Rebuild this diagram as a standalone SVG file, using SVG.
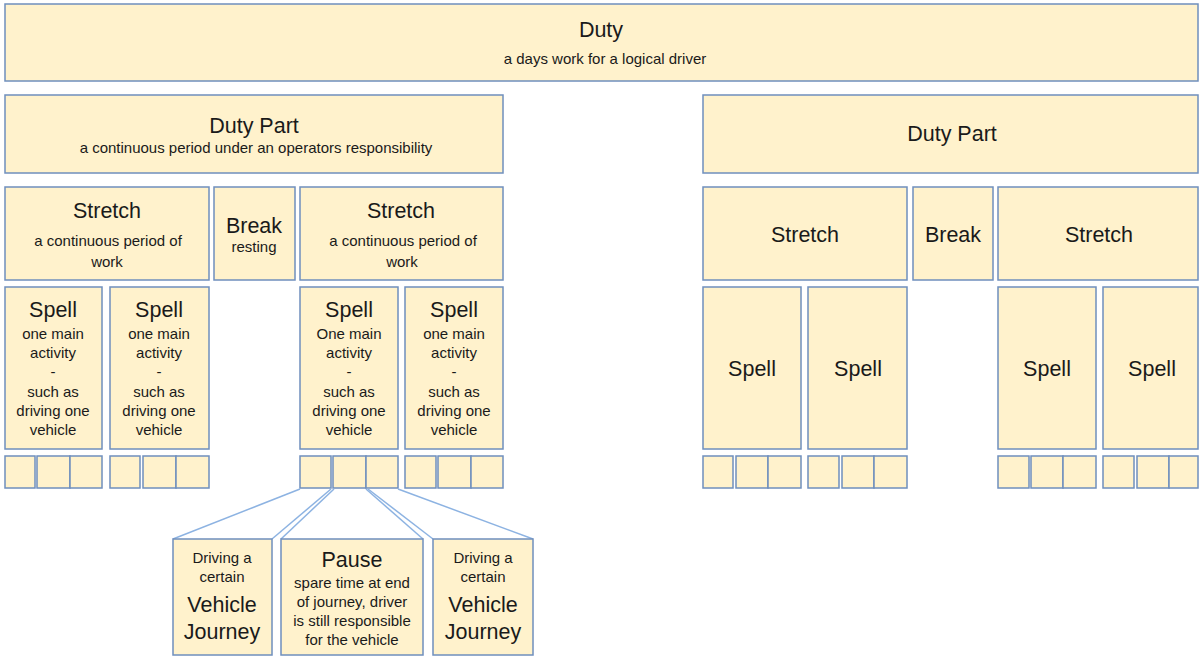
<svg xmlns="http://www.w3.org/2000/svg" width="1203" height="657" viewBox="0 0 1203 657">
<style>
rect{fill:#fff2cc;stroke:#6f8fbd;stroke-width:1.5}
text{font-family:"Liberation Sans",Arial,sans-serif;fill:#1a1a1a;text-anchor:middle}
.b{font-size:21.5px}
.s{font-size:15px}
.c line{stroke:#8db3e2;stroke-width:1.5}
</style>
<rect width="1203" height="657" style="fill:#fff;stroke:none"/>
<g id="duty"><rect x="5" y="4" width="1193" height="77"/><text class="b" x="601" y="37">Duty</text><text class="s" x="605" y="64">a days work for a logical driver</text></g>
<g id="dutypart1"><rect x="5" y="95" width="498" height="78"/><text class="b" x="254" y="133">Duty Part</text><text class="s" x="256" y="153">a continuous period under an operators responsibility</text></g>
<g id="dutypart2"><rect x="703" y="95" width="495" height="78"/><text class="b" x="952" y="141">Duty Part</text></g>
<g id="stretch1"><rect x="5" y="187" width="204" height="93"/><text class="b" x="107" y="218">Stretch</text><text class="s" x="108" y="246">a continuous period of</text><text class="s" x="107" y="267">work</text></g>
<g id="break1"><rect x="214" y="187" width="81" height="93"/><text class="b" x="254" y="233">Break</text><text class="s" x="254" y="252">resting</text></g>
<g id="stretch2"><rect x="300" y="187" width="203" height="93"/><text class="b" x="401" y="218">Stretch</text><text class="s" x="403" y="246">a continuous period of</text><text class="s" x="402" y="267">work</text></g>
<g id="stretch3"><rect x="703" y="187" width="204" height="93"/><text class="b" x="805" y="242">Stretch</text></g>
<g id="break2"><rect x="913" y="187" width="80" height="93"/><text class="b" x="953" y="242">Break</text></g>
<g id="stretch4"><rect x="998" y="187" width="200" height="93"/><text class="b" x="1099" y="242">Stretch</text></g>
<g id="spell1"><rect x="5" y="287" width="97" height="162"/><text class="b" x="53" y="317">Spell</text><text class="s" x="53" y="339">one main</text><text class="s" x="53" y="358">activity</text><text class="s" x="53" y="377">-</text><text class="s" x="53" y="397">such as</text><text class="s" x="53" y="416">driving one</text><text class="s" x="53" y="435">vehicle</text></g>
<g id="spell2"><rect x="110" y="287" width="99" height="162"/><text class="b" x="159" y="317">Spell</text><text class="s" x="159" y="339">one main</text><text class="s" x="159" y="358">activity</text><text class="s" x="159" y="377">-</text><text class="s" x="159" y="397">such as</text><text class="s" x="159" y="416">driving one</text><text class="s" x="159" y="435">vehicle</text></g>
<g id="spell3"><rect x="300" y="287" width="98" height="162"/><text class="b" x="349" y="317">Spell</text><text class="s" x="349" y="339">One main</text><text class="s" x="349" y="358">activity</text><text class="s" x="349" y="377">-</text><text class="s" x="349" y="397">such as</text><text class="s" x="349" y="416">driving one</text><text class="s" x="349" y="435">vehicle</text></g>
<g id="spell4"><rect x="405" y="287" width="98" height="162"/><text class="b" x="454" y="317">Spell</text><text class="s" x="454" y="339">one main</text><text class="s" x="454" y="358">activity</text><text class="s" x="454" y="377">-</text><text class="s" x="454" y="397">such as</text><text class="s" x="454" y="416">driving one</text><text class="s" x="454" y="435">vehicle</text></g>
<g id="spell5"><rect x="703" y="287" width="98" height="162"/><text class="b" x="752" y="376">Spell</text></g>
<g id="spell6"><rect x="808" y="287" width="99" height="162"/><text class="b" x="858" y="376">Spell</text></g>
<g id="spell7"><rect x="998" y="287" width="98" height="162"/><text class="b" x="1047" y="376">Spell</text></g>
<g id="spell8"><rect x="1103" y="287" width="95" height="162"/><text class="b" x="1152" y="376">Spell</text></g>
<g id="items1"><rect x="5" y="456" width="30" height="32"/><rect x="37" y="456" width="33" height="32"/><rect x="70" y="456" width="32" height="32"/></g>
<g id="items2"><rect x="110" y="456" width="30" height="32"/><rect x="143" y="456" width="33" height="32"/><rect x="176" y="456" width="33" height="32"/></g>
<g id="items3"><rect x="300" y="456" width="31" height="32"/><rect x="333" y="456" width="33" height="32"/><rect x="366" y="456" width="32" height="32"/></g>
<g id="items4"><rect x="405" y="456" width="31" height="32"/><rect x="438" y="456" width="33" height="32"/><rect x="471" y="456" width="32" height="32"/></g>
<g id="items5"><rect x="703" y="456" width="30" height="32"/><rect x="736" y="456" width="32" height="32"/><rect x="768" y="456" width="33" height="32"/></g>
<g id="items6"><rect x="808" y="456" width="31" height="32"/><rect x="842" y="456" width="32" height="32"/><rect x="874" y="456" width="33" height="32"/></g>
<g id="items7"><rect x="998" y="456" width="31" height="32"/><rect x="1031" y="456" width="32" height="32"/><rect x="1063" y="456" width="33" height="32"/></g>
<g id="items8"><rect x="1103" y="456" width="31" height="32"/><rect x="1137" y="456" width="32" height="32"/><rect x="1169" y="456" width="29" height="32"/></g>
<g id="connectors" class="c">
<line x1="300" y1="489" x2="173" y2="539"/>
<line x1="331" y1="489" x2="272" y2="539"/>
<line x1="334" y1="489" x2="281" y2="539"/>
<line x1="366" y1="489" x2="423" y2="539"/>
<line x1="368" y1="489" x2="433" y2="539"/>
<line x1="398" y1="489" x2="533" y2="539"/>
</g>
<g id="vj1"><rect x="173" y="539" width="99" height="116"/><text class="s" x="222" y="563">Driving a</text><text class="s" x="222" y="582">certain</text><text class="b" x="222" y="612">Vehicle</text><text class="b" x="222" y="639">Journey</text></g>
<g id="pause"><rect x="281" y="539" width="142" height="116"/><text class="b" x="352" y="567">Pause</text><text class="s" x="352" y="588">spare time at end</text><text class="s" x="352" y="607">of journey, driver</text><text class="s" x="352" y="626">is still responsible</text><text class="s" x="352" y="645">for the vehicle</text></g>
<g id="vj2"><rect x="433" y="539" width="100" height="116"/><text class="s" x="483" y="563">Driving a</text><text class="s" x="483" y="582">certain</text><text class="b" x="483" y="612">Vehicle</text><text class="b" x="483" y="639">Journey</text></g>
</svg>
